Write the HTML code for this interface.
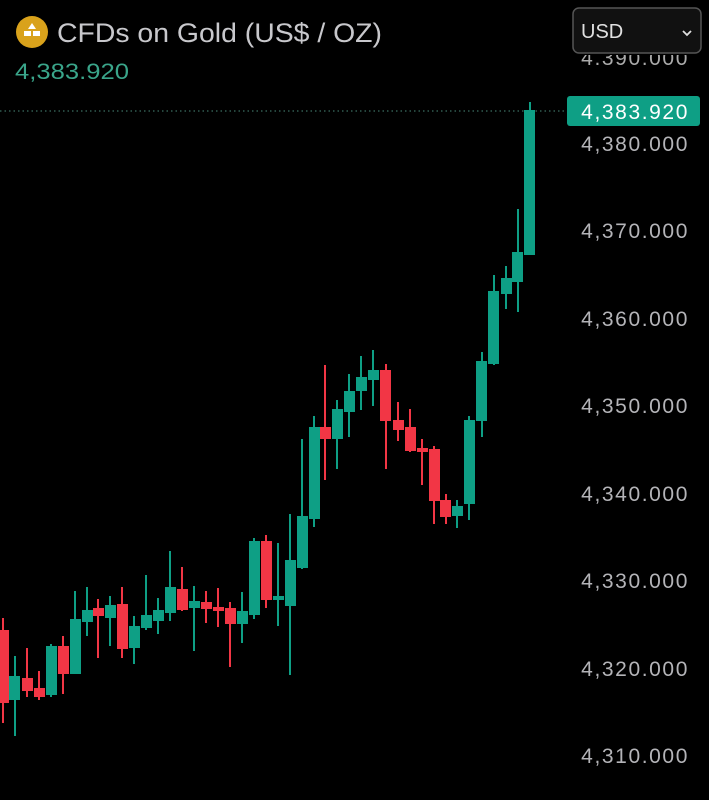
<!DOCTYPE html>
<html><head><meta charset="utf-8"><style>
html,body{margin:0;padding:0;background:#000;width:709px;height:800px;overflow:hidden}
svg{display:block}
</style></head><body>
<svg width="709" height="800" xmlns="http://www.w3.org/2000/svg" font-family="Liberation Sans, sans-serif">
<rect width="709" height="800" fill="#000"/>
<circle cx="32" cy="32" r="16" fill="#d9a21b"/>
<polygon points="32,23 36,29 28,29" fill="#fff"/>
<rect x="24" y="31" width="7" height="5" fill="#fff"/><rect x="33" y="31" width="7" height="5" fill="#fff"/>
<text x="57" y="42" font-size="27" fill="#c8c8cc" textLength="325" lengthAdjust="spacingAndGlyphs">CFDs on Gold (US$ / OZ)</text>
<text x="15" y="79" font-size="22" fill="#3aa58a" textLength="114" lengthAdjust="spacingAndGlyphs">4,383.920</text>
<clipPath id="c"><rect x="560" y="55" width="149" height="10"/></clipPath>
<text x="689" y="65" font-size="21" fill="#aaa" text-anchor="end" clip-path="url(#c)" letter-spacing="1.6">4,390.000</text>
<rect x="573" y="8" width="128" height="45" rx="6" fill="#111" stroke="#555" stroke-width="1.5"/>
<text x="581" y="38" font-size="20" fill="#e0e0e0">USD</text>
<path d="M683 31 L687 35 L691 31" stroke="#e0e0e0" stroke-width="1.8" fill="none"/>
<line x1="0" y1="111" x2="567" y2="111" stroke="#4a8a7a" stroke-dasharray="1.5,3" stroke-width="1"/>
<rect x="567" y="96" width="133" height="30" rx="3" fill="#0e9f85"/>
<text x="689" y="119" font-size="21" fill="#fff" text-anchor="end" letter-spacing="1.6">4,383.920</text>
<g font-size="21" fill="#b4b4b8" text-anchor="end" letter-spacing="1.6">
<text x="689" y="151">4,380.000</text>
<text x="689" y="238">4,370.000</text>
<text x="689" y="326">4,360.000</text>
<text x="689" y="413">4,350.000</text>
<text x="689" y="501">4,340.000</text>
<text x="689" y="588">4,330.000</text>
<text x="689" y="676">4,320.000</text>
<text x="689" y="763">4,310.000</text>
</g>
<g stroke-width="2">
<g stroke="#f23645" fill="#f23645">
<line x1="3" y1="618" x2="3" y2="723"/><rect x="-1" y="631" width="9" height="71"/>
<line x1="27" y1="648" x2="27" y2="697"/><rect x="23" y="679" width="9" height="11"/>
<line x1="39" y1="671" x2="39" y2="700"/><rect x="35" y="689" width="9" height="7"/>
<line x1="63" y1="636" x2="63" y2="694"/><rect x="59" y="647" width="9" height="26"/>
<line x1="98" y1="599" x2="98" y2="658"/><rect x="94" y="609" width="9" height="6"/>
<line x1="122" y1="587" x2="122" y2="658"/><rect x="118" y="605" width="9" height="43"/>
<line x1="182" y1="567" x2="182" y2="611"/><rect x="178" y="590" width="9" height="19"/>
<line x1="206" y1="591" x2="206" y2="623"/><rect x="202" y="603" width="9" height="5"/>
<line x1="218" y1="588" x2="218" y2="627"/><rect x="214" y="608" width="9" height="2"/>
<line x1="230" y1="602" x2="230" y2="667"/><rect x="226" y="609" width="9" height="14"/>
<line x1="266" y1="535" x2="266" y2="608"/><rect x="262" y="542" width="9" height="57"/>
<line x1="325" y1="365" x2="325" y2="480"/><rect x="321" y="428" width="9" height="10"/>
<line x1="386" y1="364" x2="386" y2="469"/><rect x="381" y="371" width="9" height="49"/>
<line x1="398" y1="402" x2="398" y2="441"/><rect x="394" y="421" width="9" height="8"/>
<line x1="410" y1="409" x2="410" y2="452"/><rect x="406" y="428" width="9" height="22"/>
<line x1="422" y1="439" x2="422" y2="485"/><rect x="418" y="449" width="9" height="2"/>
<line x1="434" y1="446" x2="434" y2="524"/><rect x="430" y="450" width="9" height="50"/>
<line x1="446" y1="494" x2="446" y2="524"/><rect x="441" y="501" width="9" height="15"/>
</g>
<g stroke="#0e9f85" fill="#0e9f85">
<line x1="15" y1="656" x2="15" y2="736"/><rect x="10" y="677" width="9" height="22"/>
<line x1="51" y1="644" x2="51" y2="697"/><rect x="47" y="647" width="9" height="47"/>
<line x1="75" y1="591" x2="75" y2="674"/><rect x="71" y="620" width="9" height="53"/>
<line x1="87" y1="587" x2="87" y2="636"/><rect x="83" y="611" width="9" height="10"/>
<line x1="110" y1="596" x2="110" y2="646"/><rect x="106" y="606" width="9" height="11"/>
<line x1="134" y1="616" x2="134" y2="664"/><rect x="130" y="627" width="9" height="20"/>
<line x1="146" y1="575" x2="146" y2="630"/><rect x="142" y="616" width="9" height="11"/>
<line x1="158" y1="598" x2="158" y2="634"/><rect x="154" y="611" width="9" height="9"/>
<line x1="170" y1="551" x2="170" y2="621"/><rect x="166" y="588" width="9" height="24"/>
<line x1="194" y1="586" x2="194" y2="651"/><rect x="190" y="602" width="9" height="5"/>
<line x1="242" y1="592" x2="242" y2="643"/><rect x="238" y="612" width="9" height="11"/>
<line x1="254" y1="538" x2="254" y2="619"/><rect x="250" y="542" width="9" height="72"/>
<line x1="278" y1="543" x2="278" y2="626"/><rect x="274" y="597" width="9" height="2"/>
<line x1="290" y1="514" x2="290" y2="675"/><rect x="286" y="561" width="9" height="44"/>
<line x1="302" y1="439" x2="302" y2="569"/><rect x="298" y="517" width="9" height="50"/>
<line x1="314" y1="416" x2="314" y2="527"/><rect x="310" y="428" width="9" height="90"/>
<line x1="337" y1="400" x2="337" y2="469"/><rect x="333" y="410" width="9" height="28"/>
<line x1="349" y1="374" x2="349" y2="437"/><rect x="345" y="392" width="9" height="19"/>
<line x1="361" y1="356" x2="361" y2="410"/><rect x="357" y="378" width="9" height="12"/>
<line x1="373" y1="350" x2="373" y2="406"/><rect x="369" y="371" width="9" height="8"/>
<line x1="457" y1="500" x2="457" y2="528"/><rect x="453" y="507" width="9" height="8"/>
<line x1="469" y1="416" x2="469" y2="520"/><rect x="465" y="421" width="9" height="82"/>
<line x1="482" y1="352" x2="482" y2="437"/><rect x="477" y="362" width="9" height="58"/>
<line x1="494" y1="275" x2="494" y2="365"/><rect x="489" y="292" width="9" height="71"/>
<line x1="506" y1="266" x2="506" y2="309"/><rect x="502" y="279" width="9" height="14"/>
<line x1="518" y1="209" x2="518" y2="312"/><rect x="513" y="253" width="9" height="28"/>
<line x1="530" y1="102" x2="530" y2="255"/><rect x="525" y="111" width="9" height="143"/>
</g>
</g>
</svg>
</body></html>
